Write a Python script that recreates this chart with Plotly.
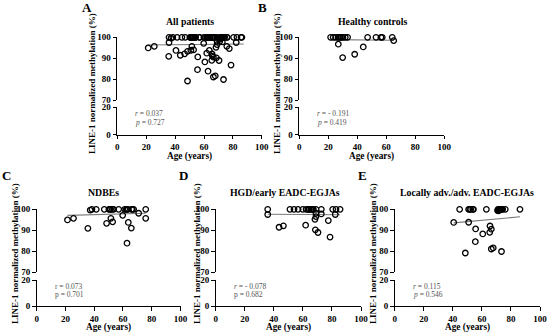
import plotly.graph_objects as go

# ---------------- data ----------------
# Healthy controls (B)
hc_age = [21.6, 23.4, 25.1, 26.7, 27.5, 28.3, 29.2, 30.1, 31.7, 33.3, 47.1, 52.9, 56.3, 57.2, 64.1,
          26.9, 29.9, 38.2, 44.1, 65.1]
hc_val = [100, 100, 100, 100, 100, 100, 100, 100, 100, 100, 100, 100, 100, 100, 100,
          96.7, 90.3, 91.9, 95.4, 98.4]

# NDBEs (C)
nd_age = [37.2, 38.4, 41.4, 47.0, 50.2, 51.0, 51.4, 52.6, 53.5, 57.0, 61.2, 62.3, 62.8, 63.5, 66.0,
          66.5, 67.4, 75.8,
          21.4, 25.6, 35.6, 51.6, 48.6, 52.8, 59.8, 63.7, 65.8, 62.8, 70.9, 75.8]
nd_val = [99.6, 100, 100, 100, 100, 100, 100, 100, 100, 100, 100, 100, 100, 100, 100,
          100, 100, 100,
          94.9, 95.7, 90.9, 95.7, 93.3, 94.0, 97.1, 93.7, 91.0, 83.8, 98.1, 95.7]

# HGD/early EADC-EGJAs (D)
hgd_age = [35.8, 51.1, 53.9, 56.7, 59.9, 62.2, 63.5, 64.0, 64.4, 65.4, 66.3, 66.8, 67.2, 69.0, 72.7,
           80.5, 82.8, 85.6,
           35.8, 69.0, 72.7, 69.0, 68.3, 82.3, 77.5, 43.6, 46.6, 61.9, 68.6, 70.4, 78.7]
hgd_val = [100, 100, 100, 100, 100, 100, 100, 100, 100, 100, 100, 100, 100, 100, 100,
           100, 100, 100,
           97.5, 98.1, 97.8, 96.5, 95.2, 97.5, 94.6, 91.4, 92.1, 92.4, 90.2, 88.9, 86.7]

# Locally adv./adv. EADC-EGJAs (E)
adv_age = [44.7, 50.9, 51.6, 52.3, 53.7, 54.2, 63.1, 71.1, 71.6, 72.0, 72.6, 73.2, 73.8, 74.3, 76.1,
           86.2, 70.8, 71.5,
           40.6, 50.9, 55.7, 65.6, 66.5, 60.6, 65.4, 55.5, 48.6, 66.5, 67.8, 73.5]
adv_val = [100, 100, 100, 100, 100, 100, 100, 100, 100, 100, 100, 100, 100, 100, 100,
           100, 99.4, 99.2,
           93.7, 93.8, 90.6, 92.0, 90.5, 88.2, 89.0, 84.5, 79.1, 81.0, 81.5, 79.8]

# All patients (A) = NDBEs + HGD/early + locally adv./adv.
all_age = nd_age + hgd_age + adv_age
all_val = nd_val + hgd_val + adv_val

# regression lines (end points)
fit_all_x, fit_all_y = [21.0, 87.5], [96.3, 96.8]
fit_hc_x, fit_hc_y = [21.6, 65.1], [98.9, 98.6]
fit_nd_x, fit_nd_y = [21.4, 75.8], [97.1, 98.1]
fit_hgd_x, fit_hgd_y = [35.8, 85.6], [97.6, 97.4]
fit_adv_x, fit_adv_y = [40.6, 86.2], [93.5, 96.4]

panel_letters = ["A", "B", "C", "D", "E"]
panel_titles = ["All patients", "Healthy controls", "NDBEs", "HGD/early EADC-EGJAs",
                "Locally adv./adv. EADC-EGJAs"]
r_texts = ["<i>r</i> = 0.037", "<i>r</i> = - 0.191", "r = 0.073", "<i>r</i> = - 0.078", "<i>r</i> = 0.115"]
p_texts = ["<i>p</i> = 0.727", "<i>p</i> = 0.419", "p = 0.701", "p = 0.682", "<i>p</i> = 0.546"]

x_ticks = [0, 20, 40, 60, 80, 100]
y_top_ticks = [70, 80, 90, 100]
y_bot_ticks = [0, 20]
x_title = "Age (years)"
y_title = "LINE-1 normalized methylation (%)"

# ---------------- layout geometry (pixels) ----------------
W, H = 550, 334
def fx(px):
    return px / W
def fy(py):
    return 1 - py / H

panels = [
    dict(x0=117.3, x1=261.8, top=(37.3, 100.0), bot=(107.3, 134.5), data=(all_age, all_val),
         fit=(fit_all_x, fit_all_y), letter=(87, 8), title=(190, 21), ylab=(92, 84), xlab=156.5),
    dict(x0=299.3, x1=444.3, top=(37.3, 100.0), bot=(107.3, 134.5), data=(hc_age, hc_val),
         fit=(fit_hc_x, fit_hc_y), letter=(262, 8), title=(372, 21), ylab=(277, 84), xlab=156.5),
    dict(x0=36.7, x1=180.5, top=(209.3, 272.0), bot=(280.0, 306.0), data=(nd_age, nd_val),
         fit=(fit_nd_x, fit_nd_y), letter=(6, 175), title=(103, 193), ylab=(15, 254), xlab=327.5),
    dict(x0=215.7, x1=361.0, top=(209.3, 272.0), bot=(280.0, 306.0), data=(hgd_age, hgd_val),
         fit=(fit_hgd_x, fit_hgd_y), letter=(183, 175), title=(285, 193), ylab=(197, 254), xlab=327.5),
    dict(x0=394.7, x1=540.0, top=(209.3, 272.0), bot=(280.0, 306.0), data=(adv_age, adv_val),
         fit=(fit_adv_x, fit_adv_y), letter=(362, 175), title=(467, 193), ylab=(373, 254), xlab=327.5),
]

FONT = "Liberation Serif"
fig = go.Figure()
annotations = []
axis_common = dict(showline=True, linecolor="black", linewidth=1.4, ticks="outside",
                   ticklen=3.5, tickwidth=1.3, tickcolor="black", showgrid=False,
                   zeroline=False, automargin=False,
                   tickfont=dict(family=FONT, size=9, color="black", weight="bold"))

for i, p in enumerate(panels):
    xn = i + 1
    yb = 2 * i + 1
    yt = 2 * i + 2
    xname = "x" if xn == 1 else f"x{xn}"
    ybname = "y" if yb == 1 else f"y{yb}"
    ytname = f"y{yt}"
    xkey = "xaxis" if xn == 1 else f"xaxis{xn}"
    ybkey = "yaxis" if yb == 1 else f"yaxis{yb}"
    ytkey = f"yaxis{yt}"

    fig.layout[xkey] = dict(domain=[fx(p["x0"]), fx(p["x1"])], range=[0, 100],
                            tickvals=x_ticks, anchor=ybname, **axis_common)
    fig.layout[ybkey] = dict(domain=[fy(p["bot"][1]), fy(p["bot"][0])], range=[0, 20],
                             tickvals=y_bot_ticks, anchor=xname, **axis_common)
    fig.layout[ytkey] = dict(domain=[fy(p["top"][1]), fy(p["top"][0])], range=[70, 100],
                             tickvals=y_top_ticks, anchor=xname, **axis_common)

    ages, vals = p["data"]
    fig.add_trace(go.Scatter(x=p["fit"][0], y=p["fit"][1], mode="lines",
                             line=dict(color="#7a7a7a", width=1.1),
                             xaxis=xname, yaxis=ytname, showlegend=False, cliponaxis=False,
                             hoverinfo="skip"))
    fig.add_trace(go.Scatter(x=ages, y=vals, mode="markers",
                             marker=dict(symbol="circle-open", size=5.5, color="black",
                                         line=dict(width=1.3, color="black")),
                             xaxis=xname, yaxis=ytname, showlegend=False, cliponaxis=False))

    # stats text inside lower segment
    annotations.append(dict(x=11, y=15.3, xref=xname, yref=ybname, text=r_texts[i],
                            showarrow=False, xanchor="left", yanchor="middle",
                            font=dict(family=FONT, size=7.5, color="#555555")))
    annotations.append(dict(x=11, y=8.6, xref=xname, yref=ybname, text=p_texts[i],
                            showarrow=False, xanchor="left", yanchor="middle",
                            font=dict(family=FONT, size=7.5, color="#555555")))
    # panel letter
    annotations.append(dict(x=fx(p["letter"][0]), y=fy(p["letter"][1]), xref="paper", yref="paper",
                            text=panel_letters[i], showarrow=False, xanchor="center", yanchor="middle",
                            font=dict(family=FONT, size=13, color="black", weight="bold")))
    # title
    annotations.append(dict(x=fx(p["title"][0]), y=fy(p["title"][1]), xref="paper", yref="paper",
                            text=panel_titles[i], showarrow=False, xanchor="center", yanchor="middle",
                            font=dict(family=FONT, size=9.8, color="black", weight="bold")))
    # x-axis title
    annotations.append(dict(x=fx((p["x0"] + p["x1"]) / 2), y=fy(p["xlab"]), xref="paper", yref="paper",
                            text=x_title, showarrow=False, xanchor="center", yanchor="middle",
                            borderpad=0,
                            font=dict(family=FONT, size=9.3, color="black", weight="bold")))
    # y-axis title
    annotations.append(dict(x=fx(p["ylab"][0]), y=fy(p["ylab"][1]), xref="paper", yref="paper",
                            text=y_title, textangle=-90, showarrow=False,
                            xanchor="center", yanchor="middle",
                            font=dict(family=FONT, size=9, color="black", weight="bold")))

fig.update_layout(width=W, height=H, margin=dict(l=0, r=0, t=0, b=0),
                  paper_bgcolor="white", plot_bgcolor="white",
                  annotations=annotations, showlegend=False)

fig.write_html("out.html", config={"displayModeBar": False},
               post_script="document.body.style.margin='0';document.body.style.overflow='hidden';")
